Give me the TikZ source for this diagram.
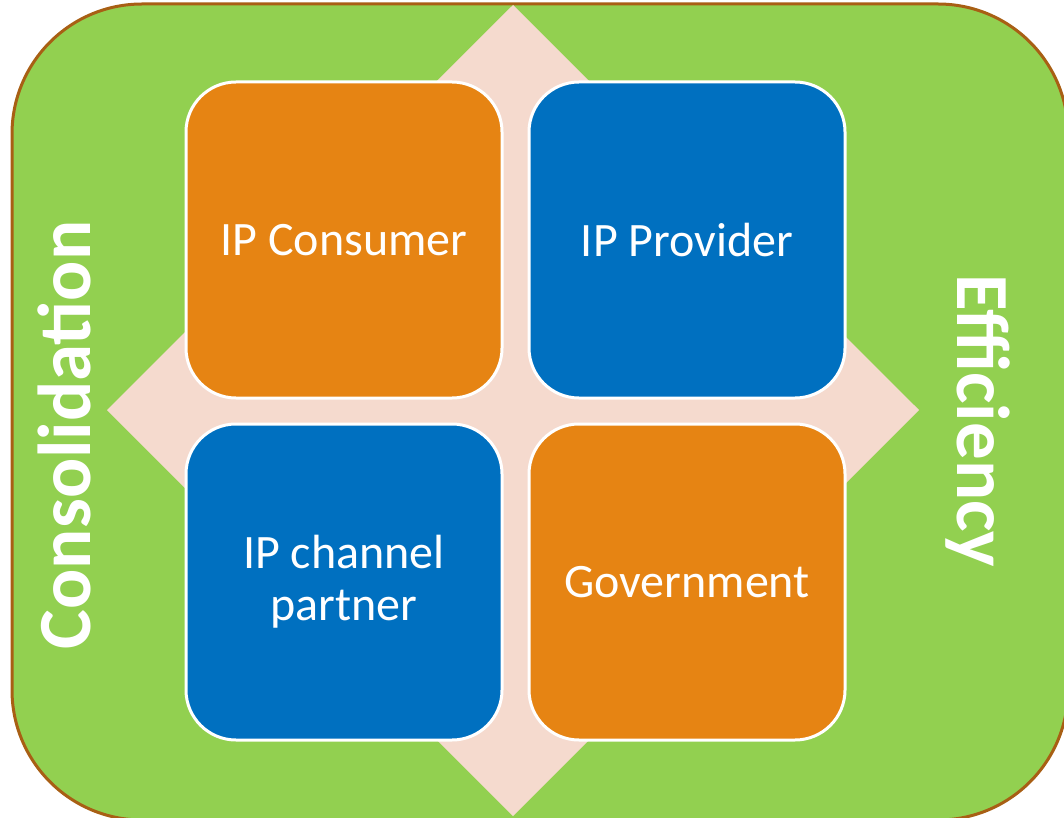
\documentclass[tikz,border=0pt]{standalone}
\usepackage{fontspec}
\setmainfont{Carlito}
\definecolor{leaf}{HTML}{92D050}
\definecolor{rim}{HTML}{A85F14}
\definecolor{blush}{HTML}{F5DACE}
\definecolor{amber}{HTML}{E68413}
\definecolor{ocean}{HTML}{0070C0}
\begin{document}
\begin{tikzpicture}[x=1pt, y=-1pt,
		quad/.style={draw=white, line width=3pt, rounded corners=50pt, minimum width=316pt, minimum height=316pt, text=white, font=\fontsize{48}{52}\selectfont, align=center, inner sep=0pt},
		side/.style={text=white, font=\bfseries\fontsize{75}{80}\selectfont, inner sep=0pt}]
		\useasboundingbox (0,0) rectangle (1064,818);
		\begin{scope}
		\clip (0,0) rectangle (1064,818);
		\draw[fill=leaf, draw=rim, line width=3pt, rounded corners=130pt] (12,4) rectangle (1068,820);
		\end{scope}
		\fill[blush] (513,5) -- (919,410) -- (513,816) -- (107,410) -- cycle;
		\node[quad, fill=amber] (consumer) at (344,240) {IP Consumer};
		\node[quad, fill=ocean] (provider) at (687,240) {IP Provider};
		\node[quad, fill=ocean] (partner) at (344,582) {IP channel\\partner};
		\node[quad, fill=amber] (government) at (687,582) {Government};
		\node[side, rotate=90] (consolidation) at (64,435) {Consolidation};
		\node[side, rotate=-90] (efficiency) at (978,421) {Efficiency};
\end{tikzpicture}
\end{document}
